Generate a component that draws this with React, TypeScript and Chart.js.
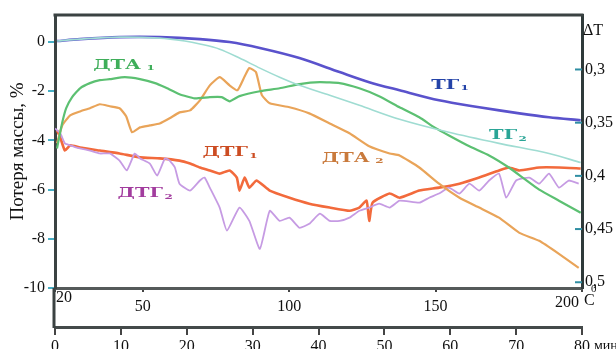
import React, { useEffect, useRef } from "react";
import { Chart, registerables } from "chart.js";

Chart.register(...registerables);

// ---- axis ticks ----
const timeTicks = [0, 10, 20, 30, 40, 50, 60, 70, 80];
const tempTicks = [20, 50, 100, 150, 200];
const lossTicks = [0, -2, -4, -6, -8, -10];
const dtTicks = [0.3, 0.35, 0.4, 0.45, 0.5];

// ---- series (time, min ; loss-axis units, %) ----
const tg1Time = [0.3, 3.8, 9.8, 15.9, 22.0, 26.5, 31.1, 37.1, 43.2, 47.7, 52.3, 58.3, 64.4, 70.5, 75.0, 79.8];
const tg1Val = [0.04, 0.12, 0.2, 0.2, 0.12, 0, -0.24, -0.65, -1.22, -1.63, -1.96, -2.37, -2.65, -2.9, -3.06, -3.18];

const tg2Time = [0.3, 3.8, 9.8, 15.9, 19.7, 22.0, 25.0, 28.0, 31.1, 34.1, 37.1, 41.7, 46.2, 52.3, 59.8, 67.4, 75.0, 79.8];
const tg2Val = [0.04, 0.12, 0.2, 0.16, 0.04, -0.08, -0.29, -0.65, -1.06, -1.43, -1.76, -2.16, -2.57, -3.14, -3.67, -4.12, -4.53, -4.9];

const dta1Time = [0.3, 0.6, 1.1, 1.7, 2.6, 3.8, 5.3, 6.8, 8.3, 10.6, 12.9, 15.2, 16.7, 18.9, 21.2, 23.5, 25.3, 26.5, 28.0, 31.1, 34.1, 37.1, 40.2, 43.2, 46.2, 49.2, 52.3, 55.3, 57.6, 59.8, 62.9, 65.9, 68.9, 71.2, 73.5, 76.5, 79.8];
const dta1Val = [-4.33, -3.92, -3.27, -2.69, -2.24, -1.88, -1.67, -1.55, -1.51, -1.43, -1.51, -1.67, -1.84, -2.12, -2.29, -2.24, -2.24, -2.41, -2.2, -2.0, -1.88, -1.71, -1.63, -1.67, -1.88, -2.2, -2.65, -3.06, -3.47, -3.8, -4.24, -4.61, -5.1, -5.55, -6.0, -6.45, -6.94];

const dta2Time = [0.3, 1.1, 2.3, 3.8, 5.3, 6.8, 8.3, 9.8, 10.8, 11.7, 12.9, 14.4, 15.9, 17.4, 18.9, 20.5, 22.0, 23.5, 25.0, 26.5, 27.7, 28.8, 29.5, 30.5, 31.4, 32.6, 35.6, 38.6, 41.7, 44.7, 47.7, 50.8, 52.3, 55.3, 58.3, 61.4, 64.4, 67.4, 70.5, 73.5, 76.5, 79.5];
const dta2Val = [-4.12, -3.39, -2.98, -2.82, -2.69, -2.53, -2.61, -2.69, -3.02, -3.67, -3.47, -3.39, -3.31, -3.1, -2.86, -2.78, -2.37, -1.76, -1.43, -1.76, -1.96, -1.39, -1.06, -1.22, -2.16, -2.49, -2.65, -2.9, -3.31, -3.71, -4.24, -4.53, -4.61, -5.1, -5.76, -6.33, -6.73, -7.14, -7.76, -8.08, -8.61, -9.18];

const dtg1Time = [0.3, 0.8, 1.5, 2.3, 3.8, 6.8, 9.8, 12.9, 15.9, 18.9, 20.5, 22.0, 23.5, 25.0, 26.5, 27.6, 28.0, 28.8, 29.5, 30.6, 32.6, 35.6, 38.6, 41.7, 44.7, 46.2, 47.3, 47.7, 48.2, 50.8, 52.3, 55.3, 58.3, 61.4, 64.4, 67.4, 68.9, 70.5, 73.5, 76.5, 79.8];
const dtg1Val = [-3.59, -3.88, -4.41, -4.2, -4.29, -4.41, -4.53, -4.69, -4.73, -4.82, -4.94, -5.1, -5.22, -5.35, -5.22, -5.51, -6.04, -5.51, -5.92, -5.63, -6.04, -6.33, -6.57, -6.73, -6.86, -6.73, -6.45, -7.27, -6.53, -6.16, -6.33, -6.04, -5.92, -5.76, -5.51, -5.22, -5.1, -5.22, -5.1, -5.1, -5.14];

const dtg2Time = [0.0, 0.8, 1.5, 2.3, 3.3, 5.3, 6.8, 8.3, 9.8, 10.9, 12.1, 12.9, 14.4, 15.5, 16.7, 17.4, 18.2, 18.9, 20.5, 22.0, 22.7, 23.5, 25.0, 26.1, 28.0, 29.5, 31.1, 32.6, 34.1, 35.6, 37.1, 38.6, 40.2, 41.7, 43.2, 44.7, 46.2, 47.7, 49.2, 50.8, 52.3, 55.3, 56.8, 58.3, 59.8, 61.4, 62.9, 64.4, 65.9, 67.4, 68.5, 70.0, 72.0, 73.5, 75.0, 76.5, 78.0, 79.5];
const dtg2Val = [-3.51, -3.71, -4.12, -4.2, -4.29, -4.41, -4.53, -4.53, -4.82, -5.22, -4.53, -4.73, -4.94, -5.43, -4.73, -4.82, -5.1, -5.76, -6.04, -5.63, -5.51, -5.92, -6.73, -7.67, -6.73, -7.27, -8.41, -6.86, -7.27, -7.14, -7.55, -7.39, -6.98, -7.27, -7.27, -7.14, -6.86, -6.73, -6.57, -6.73, -6.45, -6.53, -6.33, -6.16, -5.92, -6.16, -5.76, -6.04, -5.63, -5.35, -6.33, -5.63, -5.51, -5.76, -5.35, -5.92, -5.63, -5.76];

// ---- curve labels (text, subscript, time, loss value, colour) ----
const labelText = ["ДТА", "ТГ", "ТГ", "ДТА", "ДТГ", "ДТГ"];
const labelSub = [" 1", "1", "2", " 2", "1", "2"];
const labelTime = [5.8, 57.1, 65.9, 40.5, 22.4, 9.5];
const labelVal = [-0.94, -1.76, -3.8, -4.73, -4.49, -6.16];
const labelColor = ["#3fae5a", "#2443a8", "#2aa596", "#c97a3c", "#cc4c22", "#a23c9e"];

const pts = (t: number[], v: number[]) => t.map((x, i) => ({ x, y: v[i] }));

const SERIF = "'Liberation Serif', 'Times New Roman', serif";

const decor = {
  id: "decor",
  afterDraw(chart: any) {
    const { ctx, chartArea: a, scales } = chart;
    const x = scales.x, y = scales.y, y2 = scales.y2, xT = scales.xT;
    ctx.save();
    // top frame line
    ctx.strokeStyle = "#3b4242";
    ctx.lineWidth = 3;
    ctx.beginPath();
    ctx.moveTo(a.left - 1.5, a.top);
    ctx.lineTo(a.right + 1.5, a.top);
    ctx.stroke();
    // left line continuing down to time axis
    ctx.beginPath();
    ctx.moveTo(a.left - 1, a.bottom);
    ctx.lineTo(a.left - 1, x.top + 1);
    ctx.stroke();
    // inward ticks on right axis
    ctx.strokeStyle = "#2f8ea3";
    ctx.lineWidth = 2;
    dtTicks.forEach((v) => {
      const py = y2.getPixelForValue(v);
      ctx.beginPath();
      ctx.moveTo(a.right - 7, py);
      ctx.lineTo(a.right, py);
      ctx.stroke();
    });
    // axis texts
    ctx.fillStyle = "#111";
    ctx.font = `16px ${SERIF}`;
    ctx.textBaseline = "top";
    ctx.textAlign = "left";
    ctx.fillText("ΔT", a.right + 1, 23);
    ctx.fillText("20", xT.getPixelForValue(20) + 1, 290);
    ctx.textAlign = "right";
    ctx.fillText("200", xT.getPixelForValue(200) - 3, 295);
    ctx.textAlign = "left";
    ctx.fillText("C", a.right + 2, 293);
    ctx.font = `11px ${SERIF}`;
    ctx.fillText("0", a.right + 9, 284);
    ctx.font = `14px ${SERIF}`;
    ctx.fillText("мин", a.right + 12, x.top + 12);
    // curve labels
    for (let i = 0; i < labelText.length; i++) {
      const px = x.getPixelForValue(labelTime[i]);
      const py = y.getPixelForValue(labelVal[i]);
      ctx.save();
      ctx.translate(px, py);
      ctx.scale(1.5, 1);
      ctx.fillStyle = labelColor[i];
      ctx.textBaseline = "middle";
      ctx.textAlign = "left";
      ctx.font = `bold 13px 'DejaVu Serif', serif`;
      ctx.fillText(labelText[i], 0, 0);
      const w = ctx.measureText(labelText[i]).width;
      ctx.font = `bold 8px 'DejaVu Serif', serif`;
      ctx.fillText(labelSub[i], w + 1, 3);
      ctx.restore();
    }
    ctx.restore();
  },
};

export default function App() {
  const ref = useRef<HTMLCanvasElement | null>(null);
  useEffect(() => {
    if (!ref.current) return;
    const ds = (label: string, t: number[], v: number[], color: string, width: number, tension: number) => ({
      label,
      data: pts(t, v),
      borderColor: color,
      backgroundColor: color,
      borderWidth: width,
      pointRadius: 0,
      tension,
      fill: false,
      xAxisID: "x",
      yAxisID: "y",
    });
    const chart = new Chart(ref.current, {
      type: "line",
      data: {
        datasets: [
          ds("ТГ2", tg2Time, tg2Val, "#9fdcd2", 1.6, 0.3),
          ds("ДТА1", dta1Time, dta1Val, "#5cc072", 2.2, 0.15),
          ds("ДТА2", dta2Time, dta2Val, "#e9a459", 2.2, 0.15),
          ds("ДТГ2", dtg2Time, dtg2Val, "#c69be3", 1.8, 0.15),
          ds("ДТГ1", dtg1Time, dtg1Val, "#f26a3c", 2.6, 0.15),
          ds("ТГ1", tg1Time, tg1Val, "#5a52cc", 2.6, 0.3),
        ],
      },
      options: {
        animation: false,
        responsive: false,
        events: [],
        layout: { padding: { top: 15, left: 0, right: 0, bottom: 0 } },
        plugins: { legend: { display: false }, tooltip: { enabled: false } },
        scales: {
          x: {
            type: "linear",
            position: "bottom",
            weight: 1,
            min: 0,
            max: 80,
            afterBuildTicks: (s: any) => {
              s.ticks = timeTicks.map((v) => ({ value: v }));
            },
            afterFit: (s: any) => {
              s.height = 22;
            },
            border: { display: true, color: "#444a4a", width: 3 },
            grid: { drawOnChartArea: false, drawTicks: true, tickLength: 8, color: "#444", lineWidth: 2 },
            ticks: {
              autoSkip: false,
              maxRotation: 0,
              padding: 2,
              color: "#111",
              font: { family: SERIF, size: 16 },
            },
          },
          xT: {
            type: "linear",
            position: "bottom",
            weight: 0,
            min: 20,
            max: 200,
            afterBuildTicks: (s: any) => {
              s.ticks = tempTicks.map((v) => ({ value: v }));
            },
            afterFit: (s: any) => {
              s.height = 39;
            },
            border: { display: true, color: "#555a5a", width: 3 },
            grid: { drawOnChartArea: false, drawTicks: true, tickLength: 4, color: "#444", lineWidth: 2 },
            ticks: {
              autoSkip: false,
              maxRotation: 0,
              padding: 5,
              color: "#111",
              font: { family: SERIF, size: 16 },
              callback: (v: any) => (v === 20 || v === 200 ? "" : String(v)),
            },
          },
          y: {
            type: "linear",
            position: "left",
            min: -10,
            max: 1.1,
            afterBuildTicks: (s: any) => {
              s.ticks = lossTicks.map((v) => ({ value: v }));
            },
            afterFit: (s: any) => {
              s.width = 55;
            },
            border: { display: true, color: "#3b4242", width: 3 },
            grid: { drawOnChartArea: false, drawTicks: true, tickLength: 7, color: "#46aec4", lineWidth: 2 },
            ticks: {
              padding: 3,
              color: "#111",
              font: { family: SERIF, size: 16 },
              callback: (v: any) => String(v),
            },
            title: {
              display: true,
              text: "Потеря массы, %",
              color: "#111",
              font: { family: SERIF, size: 19 },
              padding: { top: 7, bottom: 0 },
            },
          },
          y2: {
            type: "linear",
            position: "right",
            reverse: true,
            min: 0.2488,
            max: 0.5054,
            afterBuildTicks: (s: any) => {
              s.ticks = dtTicks.map((v) => ({ value: v }));
            },
            afterFit: (s: any) => {
              s.width = 34;
            },
            border: { display: true, color: "#2f3a3a", width: 3 },
            grid: { drawOnChartArea: false, drawTicks: false },
            ticks: {
              padding: 3,
              color: "#111",
              font: { family: SERIF, size: 16 },
              callback: (v: any) => String(v).replace(".", ","),
            },
          },
        },
      },
      plugins: [decor],
    } as any);
    return () => chart.destroy();
  }, []);
  return (
    <div style={{ position: "fixed", left: 0, top: 0, width: 616, height: 349, background: "#fff", overflow: "hidden" }}>
      <canvas ref={ref} width={616} height={349} style={{ display: "block", width: 616, height: 349 }} />
    </div>
  );
}
